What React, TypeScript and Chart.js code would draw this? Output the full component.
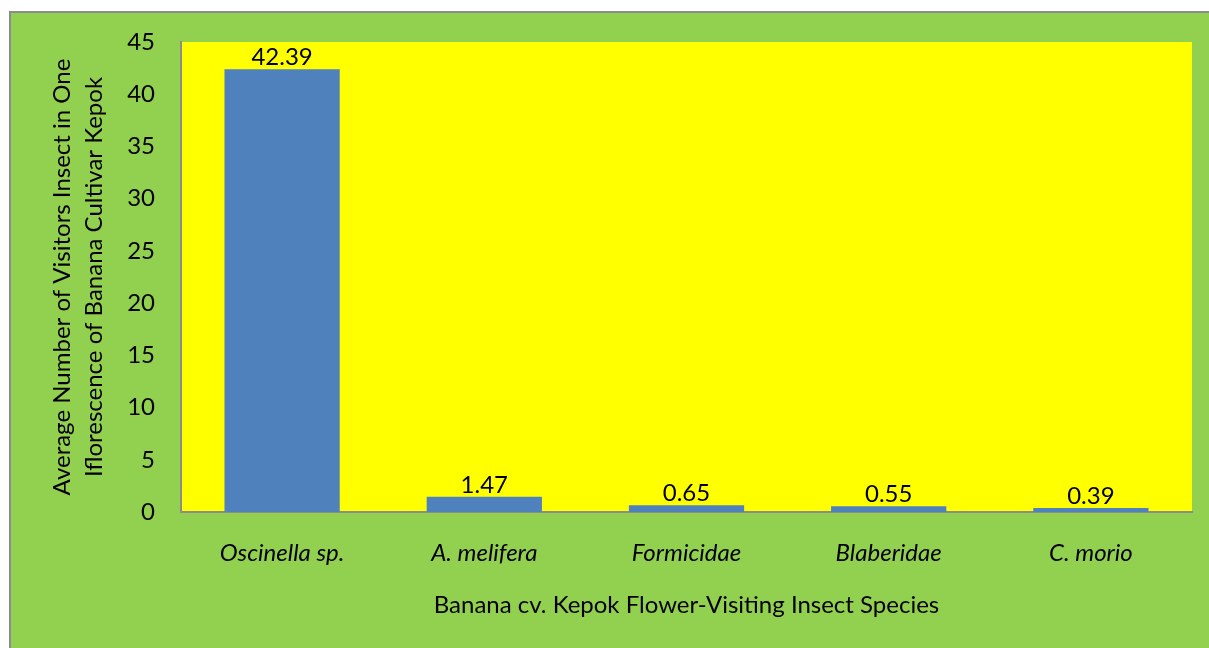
import React, { useEffect, useRef } from "react";
import { Chart, registerables } from "chart.js";

Chart.register(...registerables);

const categories = ["Oscinella sp.", "A. melifera", "Formicidae", "Blaberidae", "C. morio"];
const visitorValues = [42.39, 1.47, 0.65, 0.55, 0.39];
const yTickMax = 45;
const yTickStep = 5;
const yTitleLines = [
  "Average Number of Visitors Insect in One",
  "Iflorescence of Banana Cultivar Kepok",
];
const xTitle = "Banana cv. Kepok Flower-Visiting Insect Species";

const FONT = "Lato, 'Noto Sans', sans-serif";
const FS = 24;

const backgroundPlugin = {
  id: "bgPlugin",
  beforeDraw(chart: any) {
    const { ctx, width, height, chartArea } = chart;
    ctx.save();
    ctx.fillStyle = "#ffffff";
    ctx.fillRect(0, 0, width, height);
    ctx.fillStyle = "#92D050";
    ctx.fillRect(10, 12, width - 10, height - 12);
    ctx.strokeStyle = "#8c8c8c";
    ctx.lineWidth = 2;
    ctx.beginPath();
    ctx.moveTo(10, height + 5);
    ctx.lineTo(10, 12);
    ctx.lineTo(width + 5, 12);
    ctx.stroke();
    ctx.fillStyle = "#FFFF00";
    ctx.fillRect(chartArea.left, chartArea.top, chartArea.right - chartArea.left, chartArea.bottom - chartArea.top);
    ctx.restore();
  },
};

const labelPlugin = {
  id: "valueLabels",
  afterDatasetsDraw(chart: any) {
    const { ctx } = chart;
    const meta = chart.getDatasetMeta(0);
    const data = chart.data.datasets[0].data;
    ctx.save();
    ctx.font = `${FS}px ${FONT}`;
    ctx.fillStyle = "#000000";
    ctx.textAlign = "center";
    ctx.textBaseline = "alphabetic";
    meta.data.forEach((el: any, i: number) => {
      ctx.fillText(String(data[i]), el.x, el.y - 4);
    });
    ctx.restore();
  },
};

export default function App() {
  const canvasRef = useRef<HTMLCanvasElement>(null);

  useEffect(() => {
    if (!canvasRef.current) return;
    const chart = new Chart(canvasRef.current, {
      type: "bar",
      data: {
        labels: categories,
        datasets: [
          {
            data: visitorValues,
            backgroundColor: "#4F81BD",
            borderWidth: 0,
            categoryPercentage: 1,
            barPercentage: 0.57,
          },
        ],
      },
      options: {
        responsive: false,
        animation: false,
        layout: { padding: { left: 0, top: 42, right: 17, bottom: 0 } },
        plugins: {
          legend: { display: false },
          tooltip: { enabled: false },
        },
        scales: {
          x: {
            grid: { display: false, drawTicks: false },
            border: { display: true, color: "#8c8c8c", width: 2 },
            ticks: {
              color: "#000000",
              font: { family: FONT, size: FS, style: "italic" },
              padding: 27,
              maxRotation: 0,
              autoSkip: false,
            },
            title: {
              display: true,
              text: xTitle,
              color: "#000000",
              font: { family: FONT, size: FS, lineHeight: 1.2 },
              padding: { top: 0, bottom: 28 },
            },
            afterFit(scale: any) {
              scale.height = 136;
            },
          },
          y: {
            min: 0,
            max: yTickMax,
            grid: { display: false, drawTicks: false },
            border: { display: true, color: "#8c8c8c", width: 2 },
            ticks: {
              stepSize: yTickStep,
              color: "#000000",
              font: { family: FONT, size: FS },
              padding: 26,
            },
            title: {
              display: true,
              text: yTitleLines,
              color: "#000000",
              font: { family: FONT, size: FS, lineHeight: 1.35 },
              padding: { top: 46, bottom: 0 },
            },
            afterFit(scale: any) {
              scale.width = 181;
            },
          },
        },
      },
      plugins: [backgroundPlugin, labelPlugin],
    });
    return () => chart.destroy();
  }, []);

  return (
    <div style={{ position: "absolute", left: 0, top: 0, width: 1209, height: 648 }}>
      <canvas ref={canvasRef} width={1209} height={648} style={{ display: "block" }} />
    </div>
  );
}
